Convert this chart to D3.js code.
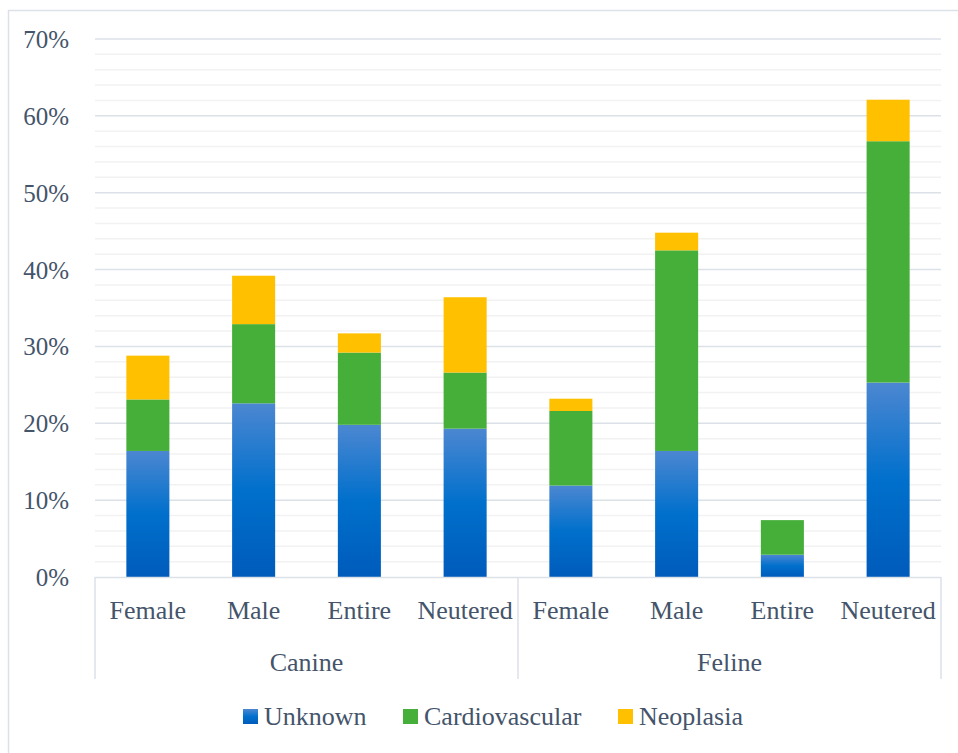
<!DOCTYPE html>
<html>
<head>
<meta charset="utf-8">
<script src="https://cdn.jsdelivr.net/npm/d3@7"></script>
<style>
  html, body { margin: 0; padding: 0; background: #fff; }
  svg { display: block; }
</style>
</head>
<body>
<svg id="chart" width="958" height="753"></svg>
<script>
// ---- Data ----
const groups = ["Canine", "Feline"];
const subCategories = ["Female", "Male", "Entire", "Neutered"];
const seriesNames = ["Unknown", "Cardiovascular", "Neoplasia"];
// values in % per bar: Canine F, M, E, N, Feline F, M, E, N
const unknownValues        = [16.4, 22.6, 19.8, 19.3, 11.9, 16.4, 2.9, 25.3];
const cardiovascularValues = [6.7, 10.3, 9.4, 7.3, 9.7, 26.1, 4.5, 31.4];
const neoplasiaValues      = [5.7, 6.3, 2.5, 9.8, 1.6, 2.3, 0.0, 5.4];
const yTicks = [0, 10, 20, 30, 40, 50, 60, 70];

// ---- Layout ----
const FONT = '"Liberation Serif", "Times New Roman", serif';
const TEXT_COLOR = "#44546A";
const svg = d3.select("#chart");
const plot = { left: 95, right: 941, top: 39, bottom: 577 };

// outer border (only top/left visible in reference)
svg.append("rect")
  .attr("x", 8.5).attr("y", 10.5).attr("width", 960).attr("height", 760)
  .attr("fill", "none").attr("stroke", "#DCE1E8").attr("stroke-width", 1.5);

// categories
const cats = [];
groups.forEach(g => subCategories.forEach(s => cats.push({ key: g + "|" + s, group: g, sub: s })));
const data = cats.map((c, i) => ({
  key: c.key, group: c.group, sub: c.sub,
  Unknown: unknownValues[i], Cardiovascular: cardiovascularValues[i], Neoplasia: neoplasiaValues[i]
}));

const x = d3.scaleBand()
  .domain(cats.map(c => c.key))
  .range([plot.left, plot.right])
  .paddingInner(0.593)
  .paddingOuter(0.2965);

const y = d3.scaleLinear().domain([0, 70]).range([plot.bottom, plot.top]);

// minor gridlines every 2%
const minor = d3.range(0, 71, 2).filter(v => v % 10 !== 0);
svg.append("g").selectAll("line").data(minor).join("line")
  .attr("x1", plot.left).attr("x2", plot.right)
  .attr("y1", d => y(d)).attr("y2", d => y(d))
  .attr("stroke", "#F2F2F2").attr("stroke-width", 1.5);

// major gridlines
svg.append("g").selectAll("line").data(yTicks.filter(v => v > 0)).join("line")
  .attr("x1", plot.left).attr("x2", plot.right)
  .attr("y1", d => y(d)).attr("y2", d => y(d))
  .attr("stroke", "#DCE1E8").attr("stroke-width", 1.5);

// y axis labels
const yAxis = d3.axisLeft(y).tickValues(yTicks).tickFormat(d => d + "%").tickSize(0).tickPadding(0);
const yG = svg.append("g").attr("transform", `translate(69,0)`).call(yAxis);
yG.attr("font-family", null).attr("font-size", null);
yG.select(".domain").remove();
yG.selectAll("text")
  .attr("font-size", 25)
  .attr("fill", TEXT_COLOR)
  .style("font-family", FONT)
  .attr("dy", "0.34em");

// gradient for blue
const defs = svg.append("defs");
const grad = defs.append("linearGradient").attr("id", "blueGrad")
  .attr("x1", 0).attr("y1", 0).attr("x2", 0).attr("y2", 1);
grad.append("stop").attr("offset", "0%").attr("stop-color", "#4C87D1");
grad.append("stop").attr("offset", "50%").attr("stop-color", "#0070CC");
grad.append("stop").attr("offset", "100%").attr("stop-color", "#005BBB");

const colors = { Unknown: "url(#blueGrad)", Cardiovascular: "#45AF3A", Neoplasia: "#FFC000" };

const stacked = d3.stack().keys(seriesNames)(data);

svg.append("g").selectAll("g").data(stacked).join("g")
  .attr("fill", d => colors[d.key])
  .selectAll("rect").data(d => d).join("rect")
  .attr("x", d => x(d.data.key))
  .attr("width", x.bandwidth())
  .attr("y", d => y(d[1]))
  .attr("height", d => y(d[0]) - y(d[1]));

// x axis lines (category box)
const axisColor = "#DCE1E8";
svg.append("line")
  .attr("x1", plot.left).attr("x2", plot.right)
  .attr("y1", plot.bottom + 0.5).attr("y2", plot.bottom + 0.5)
  .attr("stroke", axisColor).attr("stroke-width", 1.5);

const groupBounds = groups.map(g => {
  const keys = cats.filter(c => c.group === g).map(c => c.key);
  const step = x.step();
  const start = x(keys[0]) - x.paddingInner() * step / 2;
  const end = x(keys[keys.length - 1]) + x.bandwidth() + x.paddingInner() * step / 2;
  return { g, start, end };
});
const dividers = [plot.left, groupBounds[0].end, plot.right];
svg.append("g").selectAll("line").data(dividers).join("line")
  .attr("x1", d => d).attr("x2", d => d)
  .attr("y1", plot.bottom).attr("y2", 679)
  .attr("stroke", axisColor).attr("stroke-width", 1.5);

// category labels
svg.append("g").selectAll("text").data(cats).join("text")
  .attr("x", d => x(d.key) + x.bandwidth() / 2)
  .attr("y", 619)
  .attr("text-anchor", "middle")
  .attr("font-size", 26)
  .attr("fill", TEXT_COLOR)
  .style("font-family", FONT)
  .text(d => d.sub);

// group labels
svg.append("g").selectAll("text").data(groupBounds).join("text")
  .attr("x", (d, i) => (dividers[i] + dividers[i + 1]) / 2)
  .attr("y", 671)
  .attr("text-anchor", "middle")
  .attr("font-size", 26)
  .attr("fill", TEXT_COLOR)
  .style("font-family", FONT)
  .text(d => d.g);

// legend
const legendItems = [
  { name: "Unknown", x: 243 },
  { name: "Cardiovascular", x: 403 },
  { name: "Neoplasia", x: 618 }
];
const lg = svg.append("g").selectAll("g").data(legendItems).join("g")
  .attr("transform", d => `translate(${d.x},709)`);
lg.append("rect").attr("width", 15).attr("height", 15)
  .attr("fill", d => colors[d.name]);
lg.append("text").attr("x", 21).attr("y", 15.5)
  .attr("font-size", 26)
  .attr("fill", TEXT_COLOR)
  .style("font-family", FONT)
  .text(d => d.name);
</script>
</body>
</html>
